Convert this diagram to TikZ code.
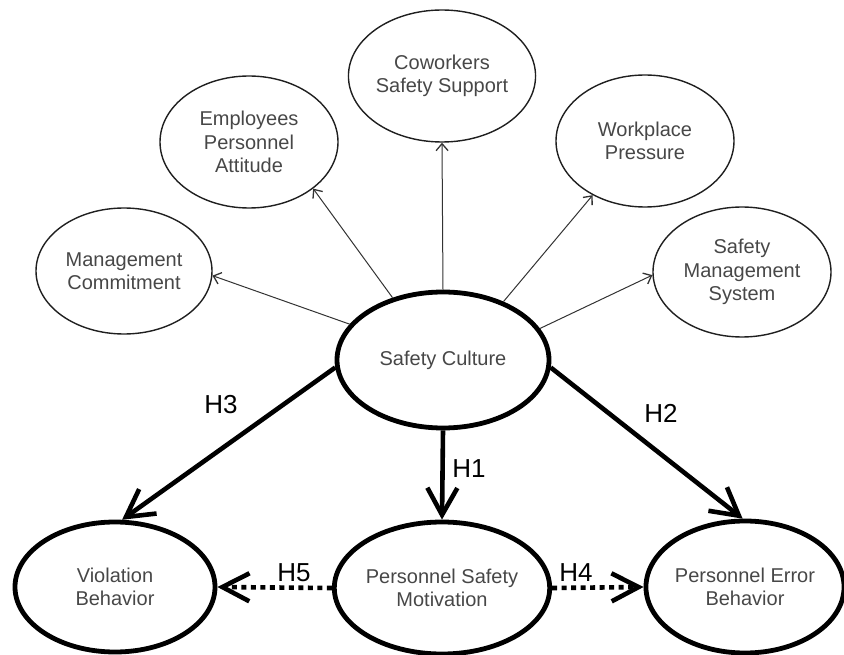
\documentclass[tikz,border=0pt]{standalone}
\usepackage{fontspec}
\setmainfont{Liberation Sans}
\usetikzlibrary{arrows.meta,shapes.geometric}
\begin{document}
\begin{tikzpicture}[x=1pt,y=-1pt,
  thinell/.style={ellipse, draw=black!88, line width=1.4pt, inner sep=0pt, align=center,
    text=black!72, font=\fontsize{20}{23.5}\selectfont},
  thickell/.style={ellipse, draw=black, line width=4.8pt, inner sep=0pt, align=center,
    text=black!72, font=\fontsize{20}{23.5}\selectfont},
  thinarrow/.style={draw=black!80, line width=1pt, -{Straight Barb[length=7pt,width=12pt,line width=1.3pt]}},
  thickarrow/.style={draw=black, line width=4.6pt, -{Straight Barb[length=27pt,width=30pt,line width=4.6pt]}},
  dotarrow/.style={draw=black, line width=4.6pt, dash pattern=on 5pt off 4.5pt, -{Straight Barb[length=27pt,width=28pt,line width=4.6pt]}},
  hlabel/.style={font=\fontsize{26}{28}\selectfont, text=black, inner sep=0pt}
]
\useasboundingbox (0,0) rectangle (844,655);
% satellite constructs
\node[thinell, minimum width=176pt, minimum height=126pt] (mc) at (124,271) {Management\\Commitment};
\node[thinell, minimum width=178pt, minimum height=132pt] (epa) at (249,142) {Employees\\Personnel\\Attitude};
\node[thinell, minimum width=174pt, minimum height=132pt] (css) at (442,76) {Coworkers\\Safety Support};
\node[thinell, minimum width=178pt, minimum height=132pt] (wp) at (645,141) {Workplace\\Pressure};
\node[thinell, minimum width=178pt, minimum height=130pt] (sms) at (742,272) {Safety\\Management\\System};
% main constructs
\node[thickell, minimum width=212pt, minimum height=136pt] (sc) at (443,360) {Safety Culture};
\node[thickell, minimum width=200pt, minimum height=130pt] (vb) at (115,587) {Violation\\Behavior};
\node[thickell, minimum width=214pt, minimum height=132pt] (psm) at (442,588) {Personnel Safety\\Motivation};
\node[thickell, minimum width=192pt, minimum height=132pt] (peb) at (745,587) {Personnel Error\\Behavior};
% thin arrows
\draw[thinarrow] (sc.159) -- (mc.-3);
\draw[thinarrow] (sc.129) -- (epa.-36);
\draw[thinarrow] (sc.90) -- (css.-90);
\draw[thinarrow] (sc.44) -- (wp.-134);
\draw[thinarrow] (sc.18) -- (sms.182);
% hypotheses
\draw[thickarrow] (sc.184) -- (vb.84);
\draw[thickarrow] (sc.-4) -- (peb.92);
\draw[thickarrow] (sc.south) -- (psm.north);
\draw[dotarrow] (psm.west) -- (vb.east);
\draw[dotarrow] (psm.east) -- (peb.west);
% labels
\node[hlabel] (h3) at (221,405) {H3};
\node[hlabel] (h2) at (661,413) {H2};
\node[hlabel] (h1) at (469,469) {H1};
\node[hlabel] (h5) at (294,573) {H5};
\node[hlabel] (h4) at (576,573) {H4};
\end{tikzpicture}
\end{document}
